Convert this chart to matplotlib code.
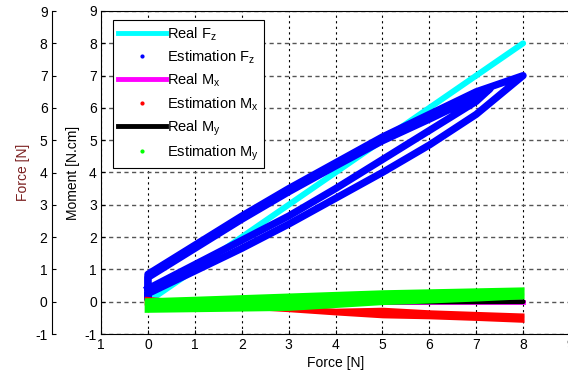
import numpy as np
import matplotlib
matplotlib.use('Agg')
import matplotlib.pyplot as plt
from matplotlib.lines import Line2D

plt.rcParams['font.family'] = ['Liberation Sans', 'DejaVu Sans']
plt.rcParams['font.size'] = 10

# real force (cyan line)
real_fz_x = [0, 8]
real_fz_y = [0, 8]

# estimated force, hysteresis loops
loop1_x = [0, 0, 1, 2, 3, 4, 5, 6, 7, 8, 7, 6, 5, 4, 3, 2, 1, 0, 0]
loop1_y = [0.15, 0.85, 1.75, 2.65, 3.5, 4.3, 5.1, 5.8, 6.5, 7.0,
           5.8, 4.85, 4.0, 3.2, 2.4, 1.65, 0.95, 0.25, 0.15]
loop2_x = [0, 0, 1, 2, 3, 4, 5, 6, 7, 7.3, 7, 6, 5, 4, 3, 2, 1, 0]
loop2_y = [0.3, 0.75, 1.65, 2.55, 3.4, 4.2, 4.98, 5.65, 6.35, 6.6,
           6.2, 5.3, 4.4, 3.5, 2.65, 1.9, 1.15, 0.4]

# moments
real_m_x = [0, 8]
real_mx_y = [0, 0]
real_my_y = [-0.02, 0.0]

band_x = [-0.08, 1, 2, 3, 4, 5, 6, 7, 8.02]
est_mx_lo = [-0.1, -0.15, -0.22, -0.31, -0.41, -0.5, -0.53, -0.58, -0.64]
est_mx_hi = [0.17, 0.05, -0.05, -0.12, -0.2, -0.17, -0.25, -0.3, -0.35]
est_my_lo = [-0.33, -0.31, -0.29, -0.27, -0.18, -0.09, -0.04, 0.02, 0.09]
est_my_hi = [0.12, 0.17, 0.22, 0.27, 0.32, 0.37, 0.4, 0.43, 0.46]

xtick_vals = [-1, 0, 1, 2, 3, 4, 5, 6, 7, 8, 9]
xtick_labels = ['1', '0', '1', '2', '3', '4', '5', '6', '7', '8', '9']
ytick_vals = [-1, 0, 1, 2, 3, 4, 5, 6, 7, 8, 9]
ytick_labels = ['-1', '0', '1', '2', '3', '4', '5', '6', '7', '8', '9']

fig = plt.figure(figsize=(5.68, 3.74), dpi=100)
ax = fig.add_axes([101 / 568, 40 / 374, 469 / 568, 323 / 374])

ax.plot(real_fz_x, real_fz_y, color='#00ffff', lw=4.3, solid_capstyle='round', zorder=2)
ax.plot(loop2_x, loop2_y, color='#0000ff', lw=5.2, solid_joinstyle='round', zorder=3)
ax.plot(loop1_x, loop1_y, color='#0000ff', lw=5.2, solid_joinstyle='round', zorder=3)
ax.plot(real_m_x, real_mx_y, color='#ff00ff', lw=3.5, zorder=3)
ax.fill_between(band_x, est_mx_lo, est_mx_hi, color='#ff0000', lw=0, zorder=4)
ax.plot(real_m_x, real_my_y, color='k', lw=3.5, solid_capstyle='round', zorder=4)
ax.fill_between(band_x, est_my_lo, est_my_hi, color='#00ff00', lw=0, zorder=5)

ax.set_xlim(-1, 9)
ax.set_ylim(-1, 9)
ax.set_xticks(xtick_vals)
ax.set_xticklabels(xtick_labels)
ax.set_yticks(ytick_vals)
ax.set_yticklabels(ytick_labels)
ax.tick_params(direction='in', length=3, width=0.8, pad=3, labelsize=10)
ax.xaxis.grid(True, color='k', linestyle=(0, (2, 3)), lw=0.8)
ax.yaxis.grid(True, color='#555555', linestyle=(0, (3, 2.5)), lw=1.0)
ax.set_axisbelow(True)
for s in ax.spines.values():
    s.set_linewidth(0.8)
ax.set_xlabel('Force [N]', labelpad=3)
ax.set_ylabel('Moment [N.cm]', labelpad=3)

# outer force axis on the left
ax2 = ax.twinx()
ax2.set_ylim(-1, 9)
ax2.set_yticks(ytick_vals)
ax2.set_yticklabels(ytick_labels)
ax2.yaxis.set_ticks_position('left')
ax2.yaxis.set_label_position('left')
ax2.spines['left'].set_position(('outward', 35.5))
ax2.spines['left'].set_linewidth(0.8)
for k in ['right', 'top', 'bottom']:
    ax2.spines[k].set_visible(False)
ax2.tick_params(direction='in', length=3, width=0.8, pad=3, labelsize=10)
ax2.set_ylabel('Force [N]', color='#7a1f1f', labelpad=4)

handles = [
    Line2D([], [], color='#00ffff', lw=3.5),
    Line2D([], [], ls='none', marker='.', ms=4, color='#0000ff'),
    Line2D([], [], color='#ff00ff', lw=3.5),
    Line2D([], [], ls='none', marker='.', ms=4, color='#ff0000'),
    Line2D([], [], color='k', lw=3.5),
    Line2D([], [], ls='none', marker='.', ms=4, color='#00ff00'),
]
labels = ['Real F$_\\mathregular{z}$', 'Estimation F$_\\mathregular{z}$',
          'Real M$_\\mathregular{x}$', 'Estimation M$_\\mathregular{x}$',
          'Real M$_\\mathregular{y}$', 'Estimation M$_\\mathregular{y}$']
leg = ax2.legend(handles, labels, loc='upper left', bbox_to_anchor=(12 / 469, 1 - 9 / 323),
                 borderaxespad=0, fancybox=False, framealpha=1, edgecolor='k',
                 handlelength=3.3, handletextpad=0.05, labelspacing=0.38,
                 borderpad=0.35, fontsize=10.5)
leg.get_frame().set_linewidth(0.8)

fig.savefig('out.png', dpi=100)
